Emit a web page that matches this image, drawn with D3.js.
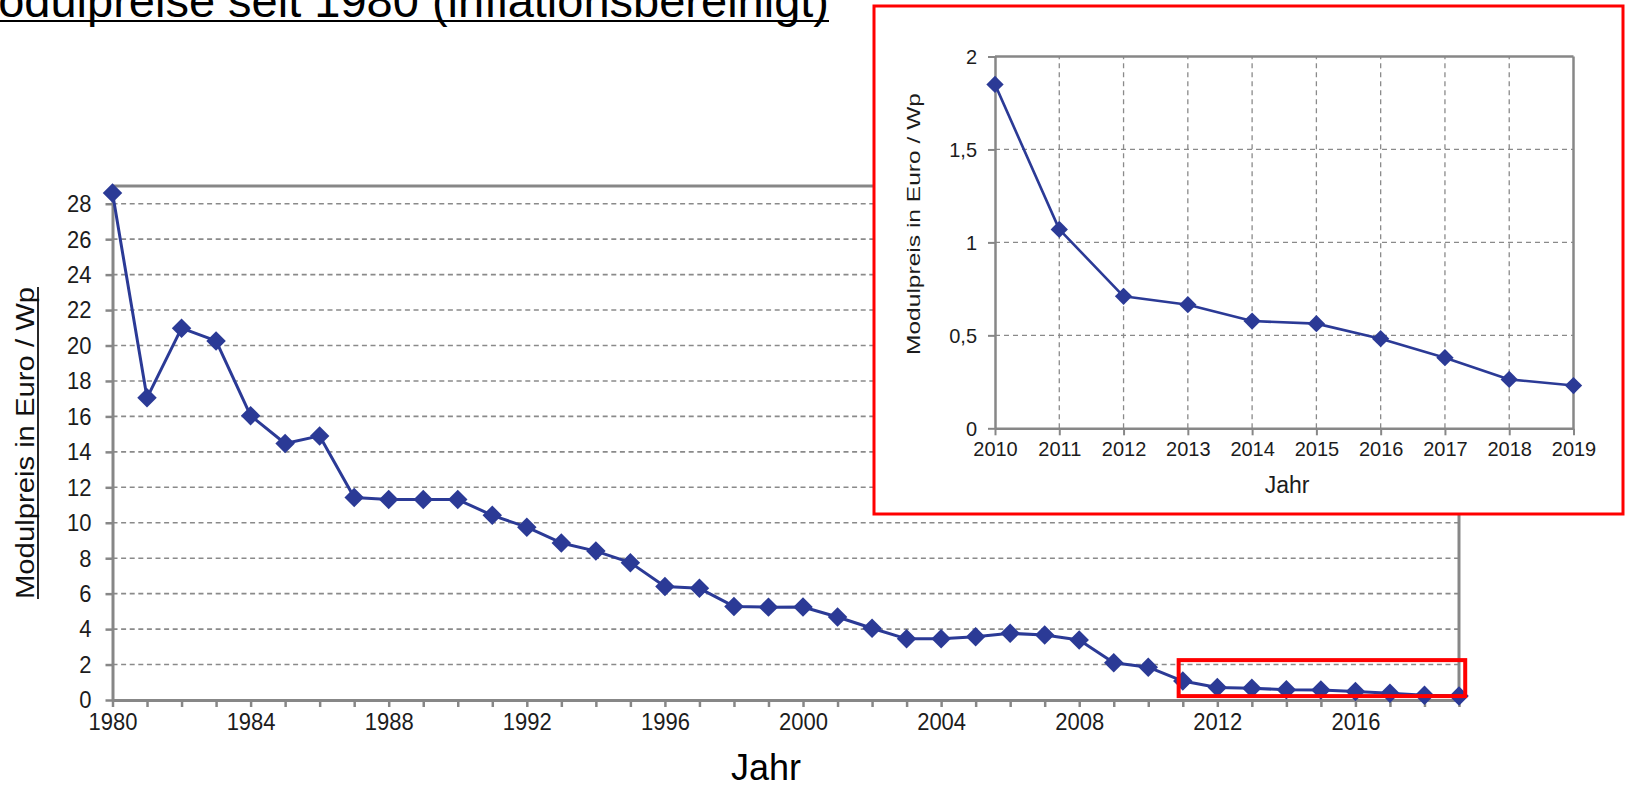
<!DOCTYPE html>
<html><head><meta charset="utf-8">
<script src="https://cdn.jsdelivr.net/npm/d3@7"></script>
<style>
html,body{margin:0;padding:0;background:#fff;overflow:hidden}
svg{display:block}
text{font-family:"Liberation Sans",Arial,Helvetica,sans-serif}
</style>
</head><body>
<svg id="c" width="1625" height="787"></svg>
<script>
// ---- data ----
const title = "Modulpreise seit 1980 (inflationsbereinigt)";
const yLabel = "Modulpreis in Euro / Wp";
const xLabel = "Jahr";
const years = [1980,1981,1982,1983,1984,1985,1986,1987,1988,1989,
               1990,1991,1992,1993,1994,1995,1996,1997,1998,1999,
               2000,2001,2002,2003,2004,2005,2006,2007,2008,2009,
               2010,2011,2012,2013,2014,2015,2016,2017,2018,2019];
const prices = [28.6,17.05,20.98,20.26,16.04,14.47,14.9,11.42,11.31,11.31,
                11.31,10.42,9.75,8.86,8.4,7.75,6.4,6.3,5.28,5.24,
                5.25,4.68,4.05,3.45,3.45,3.57,3.76,3.67,3.38,2.1,
                1.85,1.07,0.71,0.665,0.577,0.563,0.482,0.38,0.263,0.23];
const mainYTicks = [0,2,4,6,8,10,12,14,16,18,20,22,24,26,28];
const mainXLabels = [1980,1984,1988,1992,1996,2000,2004,2008,2012,2016];
const insetYears = [2010,2011,2012,2013,2014,2015,2016,2017,2018,2019];
const insetYTicks = [0,0.5,1,1.5,2];
const zoomBox = {from:2010.88, to:2019.18, low:0.22, high:2.25};

// ---- styles ----
const BLUE = "#2b3a96", GRID = "#8a8a8a", AXIS = "#878787", RED = "#ff0000", TXT = "#1c1c1c";

const svg = d3.select("#c");
const series = years.map((yr,i)=>({year:yr, price:prices[i]}));
const insetSeries = series.filter(d=>insetYears.includes(d.year));

// ---- title ----
svg.append("text").attr("x",829).attr("y",17).attr("text-anchor","end")
  .attr("font-size",47).attr("fill","#000").text(title);
svg.append("line").attr("x1",0).attr("x2",829).attr("y1",21).attr("y2",21)
  .attr("stroke","#000").attr("stroke-width",2.2);

// ---- main chart ----
const x = d3.scaleLinear().domain([1980,2019]).range([112.5,1459]);
const y = d3.scaleLinear().domain([0,29]).range([700,186]);
const main = svg.append("g");

main.append("g").selectAll("line").data(mainYTicks.filter(t=>t>0)).join("line")
  .attr("x1",x(1980)).attr("x2",x(2019)).attr("y1",d=>y(d)).attr("y2",d=>y(d))
  .attr("stroke",GRID).attr("stroke-width",1.6).attr("stroke-dasharray","5,3.6");

// frame top & right
main.append("line").attr("x1",x(1980)).attr("x2",x(2019)).attr("y1",y(29)).attr("y2",y(29))
  .attr("stroke",AXIS).attr("stroke-width",3);
main.append("line").attr("x1",x(2019)).attr("x2",x(2019)).attr("y1",y(29)).attr("y2",y(0))
  .attr("stroke",AXIS).attr("stroke-width",3);

const ya = main.append("g").attr("transform",`translate(${x(1980)},0)`)
  .call(d3.axisLeft(y).tickValues(mainYTicks).tickSize(7).tickSizeOuter(0).tickPadding(14).tickFormat(d3.format("d")));
const xa = main.append("g").attr("transform",`translate(0,${y(0)})`)
  .call(d3.axisBottom(x).tickValues(years).tickSize(7).tickSizeOuter(0)
    .tickFormat(d=>mainXLabels.includes(d)?String(d):""));
[ya,xa].forEach(a=>{
  a.select(".domain").attr("stroke",AXIS).attr("stroke-width",3);
  a.selectAll(".tick line").attr("stroke",AXIS).attr("stroke-width",2.5);
  a.selectAll("text").attr("font-size",22).attr("fill",TXT).attr("font-family",null)
    .attr("transform","scale(1,1.12)");
});
xa.selectAll("text").attr("dy",null).attr("y",30.5/1.12);

main.append("path").datum(series)
  .attr("d",d3.line().x(d=>x(d.year)).y(d=>y(d.price)))
  .attr("fill","none").attr("stroke",BLUE).attr("stroke-width",3).attr("stroke-linejoin","round");
main.append("g").selectAll("path").data(series).join("path")
  .attr("d",d3.symbol(d3.symbolSquare,190))
  .attr("transform",d=>`translate(${x(d.year)},${y(d.price)}) rotate(45)`)
  .attr("fill",BLUE);

// zoom box
main.append("rect")
  .attr("x",x(zoomBox.from)).attr("y",y(zoomBox.high))
  .attr("width",x(zoomBox.to)-x(zoomBox.from)).attr("height",y(zoomBox.low)-y(zoomBox.high))
  .attr("fill","none").attr("stroke",RED).attr("stroke-width",4);

// axis titles
const yl = main.append("g").attr("transform","translate(34,443) rotate(-90)");
yl.append("text").attr("text-anchor","middle").attr("font-size",25).attr("fill","#111")
  .attr("textLength",312).attr("lengthAdjust","spacingAndGlyphs").text(yLabel);
yl.append("line").attr("x1",-156).attr("x2",156).attr("y1",4).attr("y2",4)
  .attr("stroke","#111").attr("stroke-width",1.8);
main.append("text").attr("x",766).attr("y",780).attr("text-anchor","middle")
  .attr("font-size",36).attr("fill","#000").text(xLabel);

// ---- inset ----
const inset = svg.append("g");
inset.append("rect").attr("x",874).attr("y",6).attr("width",749).attr("height",508)
  .attr("fill","#fff").attr("stroke",RED).attr("stroke-width",3);
const xi = d3.scaleLinear().domain([2010,2019]).range([995,1573.5]);
const yi = d3.scaleLinear().domain([0,2]).range([428.3,56.5]);

inset.append("g").selectAll("line").data(insetYears.filter(v=>v>2010 && v<2019)).join("line")
  .attr("x1",d=>xi(d)).attr("x2",d=>xi(d)).attr("y1",yi(0)).attr("y2",yi(2))
  .attr("stroke",GRID).attr("stroke-width",1.3).attr("stroke-dasharray","5,4");
inset.append("g").selectAll("line").data(insetYTicks.filter(v=>v>0 && v<2)).join("line")
  .attr("x1",xi(2010)).attr("x2",xi(2019)).attr("y1",d=>yi(d)).attr("y2",d=>yi(d))
  .attr("stroke",GRID).attr("stroke-width",1.3).attr("stroke-dasharray","5,4");
inset.append("line").attr("x1",xi(2010)).attr("x2",xi(2019)).attr("y1",yi(2)).attr("y2",yi(2))
  .attr("stroke",AXIS).attr("stroke-width",2.5);
inset.append("line").attr("x1",xi(2019)).attr("x2",xi(2019)).attr("y1",yi(2)).attr("y2",yi(0))
  .attr("stroke",AXIS).attr("stroke-width",2.5);

const yia = inset.append("g").attr("transform",`translate(${xi(2010)},0)`)
  .call(d3.axisLeft(yi).tickValues(insetYTicks).tickSize(7).tickSizeOuter(0).tickPadding(11)
    .tickFormat(d=>String(d).replace(".",",")));
const xia = inset.append("g").attr("transform",`translate(0,${yi(0)})`)
  .call(d3.axisBottom(xi).tickValues(insetYears).tickSize(7).tickSizeOuter(0).tickFormat(d=>String(d)));
[yia,xia].forEach(a=>{
  a.select(".domain").attr("stroke",AXIS).attr("stroke-width",2.5);
  a.selectAll(".tick line").attr("stroke",AXIS).attr("stroke-width",2);
  a.selectAll("text").attr("font-size",20).attr("fill",TXT).attr("font-family",null)
    .attr("transform","scale(1,1.05)");
});
xia.selectAll("text").attr("dy",null).attr("y",27.5/1.05);

inset.append("path").datum(insetSeries)
  .attr("d",d3.line().x(d=>xi(d.year)).y(d=>yi(d.price)))
  .attr("fill","none").attr("stroke",BLUE).attr("stroke-width",2.6).attr("stroke-linejoin","round");
inset.append("g").selectAll("path").data(insetSeries).join("path")
  .attr("d",d3.symbol(d3.symbolSquare,150))
  .attr("transform",d=>`translate(${xi(d.year)},${yi(d.price)}) rotate(45)`)
  .attr("fill",BLUE);

inset.append("text").attr("transform","translate(920,224) rotate(-90)")
  .attr("text-anchor","middle").attr("font-size",19).attr("fill",TXT)
  .attr("textLength",262).attr("lengthAdjust","spacingAndGlyphs").text(yLabel);
inset.append("text").attr("x",1287).attr("y",493).attr("text-anchor","middle")
  .attr("font-size",23).attr("fill",TXT).text(xLabel);
</script>
</body></html>
